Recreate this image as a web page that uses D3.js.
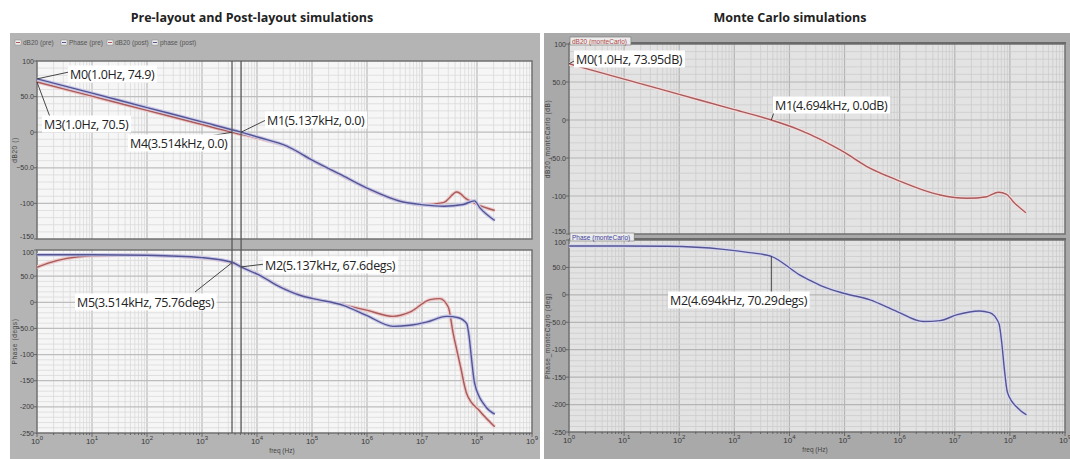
<!DOCTYPE html>
<html><head><meta charset="utf-8">
<script src="https://cdn.jsdelivr.net/npm/d3@7"></script>
<style>
body{margin:0;background:#fff}
svg{display:block;font-family:"Liberation Sans",Arial,sans-serif}
</style>
</head><body>
<svg id="chart" width="1070" height="459"></svg>
<script>
// ---- AC response data (frequency in Hz) ----
// Pre/post layout gain (dB20)
const freqMagA = [1, 10, 100, 1000, 5137, 1.1e4, 3.5e4, 1.05e5, 3.7e5, 1.1e6, 4e6, 1.05e7, 2.5e7, 5.6e7, 9e7, 1.12e8, 2.1e8];
const magA     = [74.9, 54.8, 34.6, 14.5, 0, -7.5, -19.5, -40, -61.5, -80, -97, -102, -104, -101.5, -96.5, -106, -124];
const freqMagB = [1, 10, 100, 1000, 3514, 1.1e4, 3.5e4, 1.05e5, 3.7e5, 1.1e6, 4e6, 1.05e7, 2.45e7, 4.3e7, 6.5e7, 9.8e7, 2.1e8];
const magB     = [70.5, 50.6, 30.7, 10.8, 0, -9, -20, -40.5, -62, -80.5, -96.5, -102, -99, -84, -94, -101, -110];
// Pre/post layout phase (degs)
const freqPhA = [1, 10, 100, 1000, 3514, 5137, 1.1e4, 2.6e4, 6e4, 1.05e5, 3.7e5, 9.8e5, 3e6, 6e6, 1.2e7, 2.8e7, 4.6e7, 6.5e7, 9.1e7, 1.4e8, 2.1e8];
const phA     = [91, 91, 90, 85.5, 76.5, 67.6, 52, 29.5, 13.5, 7, -5.8, -25, -46, -44, -38, -27, -29.5, -41, -156, -198, -214];
const freqPhB = [1, 1.6, 3.5, 10, 30, 100, 1000, 3514, 5137, 1.1e4, 2.6e4, 6e4, 1.05e5, 3.7e5, 9.8e5, 3e6, 6e6, 1.4e7, 2.1e7, 3e7, 3.7e7, 4.9e7, 6.5e7, 1.12e8, 2.1e8];
const phB     = [67, 75, 84, 89, 90, 90, 85, 75.76, 68, 52, 30, 14, 7, -5, -15, -27, -19, 5, 7, -9, -60, -118, -175, -208, -238];
// Monte Carlo gain and phase
const freqMagMC = [1, 10, 100, 1000, 4694, 1.55e4, 9.5e4, 2.5e5, 9e5, 5.4e6, 1.65e7, 3.8e7, 6.2e7, 8.7e7, 1.15e8, 1.95e8];
const magMC     = [73.95, 53.8, 33.7, 13.6, 0, -13.2, -41.7, -61, -79, -98.7, -103, -100.9, -95, -97.8, -107.5, -122];
const freqPhMC = [1, 10, 60, 630, 1900, 4694, 1.55e4, 2.3e4, 4.1e4, 9.5e4, 2.9e5, 9e5, 2.7e6, 5.4e6, 1.07e7, 2.8e7, 4.3e7, 6.3e7, 9.1e7, 1.4e8, 2e8];
const phMC     = [89, 89, 88.5, 83, 77, 70.29, 36, 27, 15, 3, -9, -30.5, -48.7, -47, -36.6, -29.3, -32.3, -51.8, -179, -206.6, -218.8];

// Axis ticks
const magTicks = [100, 50, 0, -50, -100, -150];
const phTicks  = [100, 50, 0, -50, -100, -150, -200, -250];
const decades  = [0, 1, 2, 3, 4, 5, 6, 7, 8, 9];
const legendItems = ["dB20 (pre)", "Phase (pre)", "dB20 (post)", "phase (post)"];

const fmtTick = v => (Math.abs(v) === 50 ? d3.format(".1f")(v) : String(v));

const RED = "#a95a5a", RED_HALO = "#edc9c9";
const BLUE = "#545494", BLUE_HALO = "#c8c8e8";

const svg = d3.select("#chart");

// Titles
svg.append("text").attr("x", 252).attr("y", 22).attr("text-anchor", "middle")
  .attr("font-family", "Open Sans, sans-serif").attr("font-weight", "bold").attr("font-size", 12.5)
  .attr("fill", "#222").text("Pre-layout and Post-layout simulations");
svg.append("text").attr("x", 790).attr("y", 22).attr("text-anchor", "middle")
  .attr("font-family", "Open Sans, sans-serif").attr("font-weight", "bold").attr("font-size", 12.5)
  .attr("fill", "#222").text("Monte Carlo simulations");

// Window frames
svg.append("rect").attr("x", 10).attr("y", 33).attr("width", 530).attr("height", 426).attr("fill", "#b4b4b4");
svg.append("rect").attr("x", 544).attr("y", 33).attr("width", 526).attr("height", 426).attr("fill", "#a9a9a9");

let clipId = 0;
function panel(xs, ys, ticks, o) {
  const [x0, x1] = xs.range();
  const [yb, yt] = ys.range();
  const g = svg.append("g");
  g.append("rect").attr("x", x0).attr("y", yt).attr("width", x1 - x0).attr("height", yb - yt).attr("fill", o.bg);
  // vertical grid
  const minorX = [], majorX = [];
  for (let k = 0; k <= 8; k++) for (let m = 2; m <= 9; m++) minorX.push(m * Math.pow(10, k));
  for (let k = 1; k <= 8; k++) majorX.push(Math.pow(10, k));
  g.selectAll(null).data(minorX).join("line")
    .attr("x1", d => xs(d)).attr("x2", d => xs(d)).attr("y1", yt).attr("y2", yb)
    .attr("stroke", o.minor).attr("stroke-width", 0.8);
  g.selectAll(null).data(majorX).join("line")
    .attr("x1", d => xs(d)).attr("x2", d => xs(d)).attr("y1", yt).attr("y2", yb)
    .attr("stroke", o.major).attr("stroke-width", 1.2);
  // horizontal grid
  const [dmin, dmax] = ys.domain();
  const minorY = d3.range(dmin + 10, dmax, 10).filter(v => v % 50 !== 0);
  const majorY = d3.range(dmin + 50, dmax, 50);
  g.selectAll(null).data(minorY).join("line")
    .attr("x1", x0).attr("x2", x1).attr("y1", d => ys(d)).attr("y2", d => ys(d))
    .attr("stroke", o.minor).attr("stroke-width", 0.8);
  g.selectAll(null).data(majorY).join("line")
    .attr("x1", x0).attr("x2", x1).attr("y1", d => ys(d)).attr("y2", d => ys(d))
    .attr("stroke", o.major).attr("stroke-width", 1.2);
  // border
  g.append("rect").attr("x", x0).attr("y", yt).attr("width", x1 - x0).attr("height", yb - yt)
    .attr("fill", "none").attr("stroke", "#707070").attr("stroke-width", 1.5);
  // y ticks
  g.selectAll(null).data(ticks).join("line")
    .attr("x1", x0 - 3).attr("x2", x0).attr("y1", d => ys(d)).attr("y2", d => ys(d))
    .attr("stroke", "#555").attr("stroke-width", 0.8);
  g.selectAll(null).data(ticks).join("text")
    .attr("x", x0 - 3)
    .attr("y", (d, i) => ys(d) + 2.5 + (i === 0 && o.firstDown ? 2 : 0) - (i === ticks.length - 1 && o.lastUp ? 3 : 0))
    .attr("text-anchor", "end")
    .attr("font-size", 7).attr("fill", "#3a3a3a").text(fmtTick);
  // y axis title
  g.append("text").attr("transform", `translate(${o.titleX},${(yt + yb) / 2}) rotate(-90)`)
    .attr("text-anchor", "middle").attr("font-size", 6.5).attr("letter-spacing", 0.6)
    .attr("fill", "#444").text(o.title);
  const id = "clip" + (clipId++);
  g.append("clipPath").attr("id", id).append("rect")
    .attr("x", x0).attr("y", yt).attr("width", x1 - x0).attr("height", yb - yt);
  const plot = g.append("g").attr("clip-path", `url(#${id})`);
  return plot;
}

function curve(plot, xs, ys, fr, vals, color, halo) {
  const pts = fr.map((f, i) => [f, vals[i]]);
  const line = d3.line().x(d => xs(d[0])).y(d => ys(d[1])).curve(d3.curveMonotoneX);
  plot.append("path").attr("d", line(pts)).attr("fill", "none").attr("stroke", halo)
    .attr("stroke-width", 3.6).attr("stroke-linejoin", "round");
  plot.append("path").attr("d", line(pts)).attr("fill", "none").attr("stroke", color)
    .attr("stroke-width", 1.4).attr("stroke-linejoin", "round");
}

function xAxis(xs, y, labelX) {
  const g = svg.append("g");
  const minor = [];
  for (let k = 0; k <= 8; k++) for (let m = 2; m <= 9; m++) minor.push(m * Math.pow(10, k));
  g.selectAll(null).data(minor).join("line")
    .attr("x1", d => xs(d)).attr("x2", d => xs(d)).attr("y1", y).attr("y2", y + 2)
    .attr("stroke", "#555").attr("stroke-width", 0.8);
  g.selectAll(null).data(decades).join("line")
    .attr("x1", d => xs(Math.pow(10, d))).attr("x2", d => xs(Math.pow(10, d))).attr("y1", y).attr("y2", y + 4)
    .attr("stroke", "#555").attr("stroke-width", 0.8);
  const t = g.selectAll(null).data(decades).join("text")
    .attr("x", d => xs(Math.pow(10, d))).attr("y", y + 11).attr("text-anchor", "middle")
    .attr("font-size", 8).attr("fill", "#3a3a3a");
  t.append("tspan").text("10");
  t.append("tspan").attr("dy", -4).attr("font-size", 6).text(d => d);
  g.append("text").attr("x", labelX).attr("y", y + 20).attr("text-anchor", "middle")
    .attr("font-size", 6.5).attr("fill", "#444").text("freq (Hz)");
}

function note(txt, x, y, from, to) {
  svg.append("line").attr("x1", from[0]).attr("y1", from[1]).attr("x2", to[0]).attr("y2", to[1])
    .attr("stroke", "#333").attr("stroke-width", 0.9);
  const g = svg.append("g");
  const rect = g.append("rect").attr("fill", "#fff");
  const t = g.append("text").attr("x", x).attr("y", y + 4.5).attr("font-size", 12.5)
    .attr("font-family", "Open Sans, sans-serif").attr("letter-spacing", -0.35)
    .attr("fill", "#222").text(txt);
  const b = t.node().getBBox();
  rect.attr("x", b.x - 2).attr("y", b.y).attr("width", b.width + 4).attr("height", b.height);
}

// ---------------- Pre/post layout window ----------------
const xL = d3.scaleLog().domain([1, 1e9]).range([37, 532]);
const yMagL = d3.scaleLinear().domain([-150, 100]).range([239, 61]);
const yPhL = d3.scaleLinear().domain([-250, 100]).range([433, 250]);
const leftStyle = { bg: "#f6f6f6", minor: "#dadada", major: "#bdbdbd" };

// legend
const lg = svg.append("g");
const legX = [15, 61, 107, 152];
legendItems.forEach((s, i) => {
  lg.append("rect").attr("x", legX[i]).attr("y", 40).attr("width", 6).attr("height", 5)
    .attr("fill", "#eee").attr("stroke", "#888").attr("stroke-width", 0.5);
  lg.append("line").attr("x1", legX[i] + 1).attr("x2", legX[i] + 5).attr("y1", 42.5).attr("y2", 42.5)
    .attr("stroke", i % 2 ? BLUE : RED).attr("stroke-width", 1);
  lg.append("text").attr("x", legX[i] + 8).attr("y", 45).attr("font-size", 6.5).attr("fill", "#555").text(s);
});

const pMagL = panel(xL, yMagL, magTicks, { ...leftStyle, title: "dB20 ()", titleX: 17, lastUp: true });
curve(pMagL, xL, yMagL, freqMagB, magB, RED, RED_HALO);
curve(pMagL, xL, yMagL, freqMagA, magA, BLUE, BLUE_HALO);
const pPhL = panel(xL, yPhL, phTicks, { ...leftStyle, title: "Phase (degs)", titleX: 17, firstDown: true });
curve(pPhL, xL, yPhL, freqPhB, phB, RED, RED_HALO);
curve(pPhL, xL, yPhL, freqPhA, phA, BLUE, BLUE_HALO);
xAxis(xL, 433, 282);

// marker cursors at the unity-gain frequencies
[3514, 5137].forEach(f => {
  svg.append("line").attr("x1", xL(f)).attr("x2", xL(f)).attr("y1", 61).attr("y2", 433)
    .attr("stroke", "#5a5a5a").attr("stroke-width", 1.3);
});

note("M0(1.0Hz, 74.9)", 70, 74, [xL(1), yMagL(74.9)], [69, 72]);
note("M3(1.0Hz, 70.5)", 44, 124, [xL(1), yMagL(70.5)], [50, 117]);
note("M4(3.514kHz, 0.0)", 130, 143, [xL(3514), yMagL(0)], [198, 138]);
note("M1(5.137kHz, 0.0)", 267, 120, [xL(5137), yMagL(0)], [268, 119]);
note("M2(5.137kHz, 67.6degs)", 265, 265, [xL(5137), yPhL(67.6)], [265, 264]);
note("M5(3.514kHz, 75.76degs)", 77, 302, [xL(3514), yPhL(75.76)], [195, 292]);

// ---------------- Monte Carlo window ----------------
const xR = d3.scaleLog().domain([1, 1e9]).range([569, 1065]);
const yMagR = d3.scaleLinear().domain([-150, 100]).range([234, 44]);
const yPhR = d3.scaleLinear().domain([-250, 100]).range([432, 240]);
const rightStyle = { bg: "#e3e3e3", minor: "#cdcdcd", major: "#b5b5b5" };

const pMagR = panel(xR, yMagR, magTicks, { ...rightStyle, title: "dB20_monteCarlo (dB)", titleX: 550, lastUp: true });
curve(pMagR, xR, yMagR, freqMagMC, magMC, RED, "#f4dada");
const pPhR = panel(xR, yPhR, phTicks, { ...rightStyle, title: "Phase_monteCarlo (deg)", titleX: 550, firstDown: true });
curve(pPhR, xR, yPhR, freqPhMC, phMC, BLUE, "#d6d6f0");
xAxis(xR, 432, 815);

// trace tabs
function tab(txt, y, color) {
  svg.append("line").attr("x1", 569).attr("x2", 1066).attr("y1", y).attr("y2", y)
    .attr("stroke", "#6a6a6a").attr("stroke-width", 2);
  const t = svg.append("text").attr("x", 572).attr("y", y + 1).attr("font-size", 6.5).attr("fill", color).text(txt);
  const b = t.node().getBBox();
  svg.insert("rect", () => t.node()).attr("x", 570).attr("y", y - 6).attr("width", b.width + 6).attr("height", 8)
    .attr("fill", "#ececec").attr("stroke", "#777").attr("stroke-width", 0.6);
}
tab("dB20 (monteCarlo)", 43, "#b04848");
tab("Phase (monteCarlo)", 239, "#40409a");

note("M0(1.0Hz, 73.95dB)", 576, 59, [xR(1), yMagR(73.95)], [576, 60]);
note("M1(4.694kHz, 0.0dB)", 775, 105, [xR(4694), yMagR(0)], [774, 112]);
note("M2(4.694kHz, 70.29degs)", 670, 300, [xR(4694), yPhR(70.29)], [xR(4694), 292]);
</script>
</body></html>
